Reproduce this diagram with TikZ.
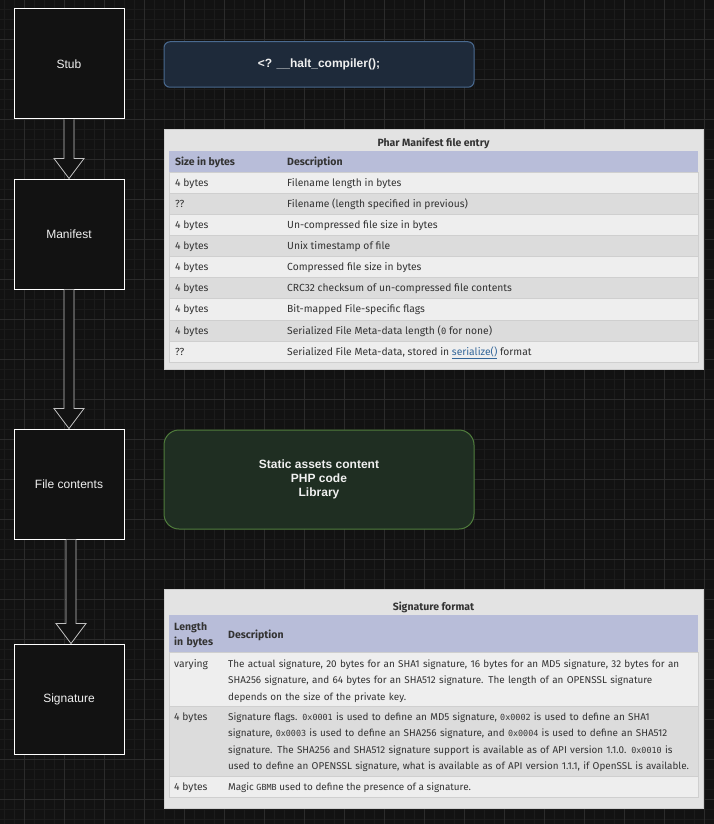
\documentclass[tikz,border=0pt]{standalone}
\usepackage{fontspec}
\setmainfont{Liberation Sans}
\newfontfamily\tablefont{Fira Sans}
\newfontfamily\tablecode{DejaVu Sans Mono}[Scale=0.85]
\usetikzlibrary{calc}

\definecolor{canvas}{HTML}{121212}
\definecolor{gridminor}{HTML}{1B1B1B}
\definecolor{gridmajor}{HTML}{2B2B2B}
\definecolor{haltfill}{HTML}{1E2A3A}
\definecolor{haltline}{HTML}{4A6A90}
\definecolor{contentfill}{HTML}{1F2E22}
\definecolor{contentline}{HTML}{4F7C3C}
\definecolor{sheet}{HTML}{E3E3E3}
\definecolor{sheetline}{HTML}{CFCFCF}
\definecolor{headfill}{HTML}{B8BDD9}
\definecolor{rowlight}{HTML}{EEEEEE}
\definecolor{rowdark}{HTML}{DCDCDC}
\definecolor{tabtext}{HTML}{333333}
\definecolor{linkblue}{HTML}{336699}
\definecolor{arrowgray}{HTML}{C0C0C0}

\newcommand{\code}[1]{{\tablecode #1}}
\newcommand{\phplink}[1]{\textcolor{linkblue}{\underline{#1}}}

\tikzset{
    stage/.style={draw=white, fill=canvas, line width=1pt, minimum width=110pt, minimum height=110pt, text=white!94!black, font=\fontsize{12}{14}\selectfont},
    infobox/.style={line width=1pt, minimum width=310pt, text=white!94!black, align=center, font=\bfseries\fontsize{12}{14}\selectfont},
    cell/.style={anchor=base west, inner sep=0pt, text=tabtext, font=\tablefont\fontsize{10.3}{16}\selectfont},
    sigcell/.style={cell, font=\tablefont\fontsize{9.9}{16.5}\selectfont},
    headcell/.style={cell, font=\tablefont\bfseries\fontsize{10.5}{15}\selectfont},
    flow/.style={draw=arrowgray, fill=canvas, line width=0.8pt}
}

% hollow block arrow from one stage to the next
\newcommand{\flowarrow}[3]{%
    \draw[flow] let \p1=($(#1.south)+(#3,0)$), \p2=($(#2.north)+(#3,0)$) in
        (\x1-5pt,\y1) -- (\x1-5pt,\y2+20pt) -- (\x1-15pt,\y2+20pt) -- (\x2,\y2)
        -- (\x1+15pt,\y2+20pt) -- (\x1+5pt,\y2+20pt) -- (\x1+5pt,\y1);
}

\begin{document}
\begin{tikzpicture}[x=1pt, y=-1pt]

    \useasboundingbox (0,0) rectangle (714,824);

    % background grid
    \fill[canvas] (0,0) rectangle (714,824);
    \foreach \gx in {4,14,...,714} \draw[gridminor, line width=0.6pt] (\gx,0) -- (\gx,824);
    \foreach \gy in {9,19,...,824} \draw[gridminor, line width=0.6pt] (0,\gy) -- (714,\gy);
    \foreach \gx in {24,64,...,714} \draw[gridmajor, line width=0.8pt] (\gx,0) -- (\gx,824);
    \foreach \gy in {39,79,...,824} \draw[gridmajor, line width=0.8pt] (0,\gy) -- (714,\gy);

    % stages of the archive
    \node[stage] (stub) at (69,64) {Stub};
    \node[stage] (manifest) at (69,234) {Manifest};
    \node[stage] (contents) at (69,484) {File contents};
    \node[stage] (signature) at (69,699) {Signature};

    \flowarrow{stub}{manifest}{0}
    \flowarrow{manifest}{contents}{0}
    \flowarrow{contents}{signature}{2}

    \node[infobox, draw=haltline, fill=haltfill, rounded corners=6pt, minimum height=45.5pt] (halt) at (319,64.5) {<? \_\_halt\_compiler();};

    \node[infobox, draw=contentline, fill=contentfill, rounded corners=15pt, minimum height=99pt] (payload) at (319,479.5) {Static assets content\\PHP code\\Library};

    % Phar manifest table
    \filldraw[fill=sheet, draw=sheetline, line width=0.5pt] (164,129) rectangle (703,369);
    \node[headcell, anchor=center] (mtitle) at (433.5,143) {Phar Manifest file entry};
    \fill[headfill] (169,151) rectangle (698,172);
    \node[headcell] (msizehead) at (175,165.5) {Size in bytes};
    \node[headcell] (mdeschead) at (287,165.5) {Description};
    \foreach \size/\desc [count=\i] in {
        4 bytes/Filename length in bytes,
        ??/Filename (length specified in previous),
        4 bytes/Un-compressed file size in bytes,
        4 bytes/Unix timestamp of file,
        4 bytes/Compressed file size in bytes,
        4 bytes/CRC32 checksum of un-compressed file contents,
        4 bytes/Bit-mapped File-specific flags,
        4 bytes/{Serialized File Meta-data length (\code{0} for none)},
        ??/{Serialized File Meta-data, stored in \phplink{serialize()} format}} {
        \pgfmathsetmacro\rowtop{172+21.11*(\i-1)}
        \ifodd\i\def\rowfill{rowlight}\else\def\rowfill{rowdark}\fi
        \filldraw[fill=\rowfill, draw=sheetline, line width=0.5pt] (169,\rowtop) rectangle (698,\rowtop+21.11);
        \node[cell] (msize\i) at (175,\rowtop+14.3) {\size};
        \node[cell] (mdesc\i) at (287,\rowtop+14.3) {\desc};
    }

    % signature table
    \filldraw[fill=sheet, draw=sheetline, line width=0.5pt] (164,589) rectangle (703,808);
    \node[headcell, anchor=center] (stitle) at (433.5,607) {Signature format};
    \fill[headfill] (169,615) rectangle (698,652);
    \node[headcell, align=left, text width=50pt] (slenhead) at (174,630.5) {Length\\in bytes};
    \node[headcell] (sdeschead) at (228,638) {Description};

    \filldraw[fill=rowlight, draw=sheetline, line width=0.5pt] (169,652) rectangle (698,706);
    \filldraw[fill=rowdark, draw=sheetline, line width=0.5pt] (169,706) rectangle (698,776);
    \filldraw[fill=rowlight, draw=sheetline, line width=0.5pt] (169,776) rectangle (698,797);

    \node[cell] (slen1) at (174,667) {varying};
    \node[sigcell, align=left, text width=480pt] (sdesc1) at (228,667) {The actual signature, 20 bytes for an SHA1 signature, 16 bytes for an MD5 signature, 32 bytes for an\\SHA256 signature, and 64 bytes for an SHA512 signature. The length of an OPENSSL signature\\depends on the size of the private key.};

    \node[cell] (slen2) at (174,720) {4 bytes};
    \node[sigcell, align=left, text width=480pt] (sdesc2) at (228,720) {Signature flags. \code{0x0001} is used to define an MD5 signature, \code{0x0002} is used to define an SHA1\\signature, \code{0x0003} is used to define an SHA256 signature, and \code{0x0004} is used to define an SHA512\\signature. The SHA256 and SHA512 signature support is available as of API version 1.1.0. \code{0x0010} is\\used to define an OPENSSL signature, what is available as of API version 1.1.1, if OpenSSL is available.};

    \node[cell] (slen3) at (174,790) {4 bytes};
    \node[sigcell] (sdesc3) at (228,790) {Magic \code{GBMB} used to define the presence of a signature.};

\end{tikzpicture}
\end{document}
